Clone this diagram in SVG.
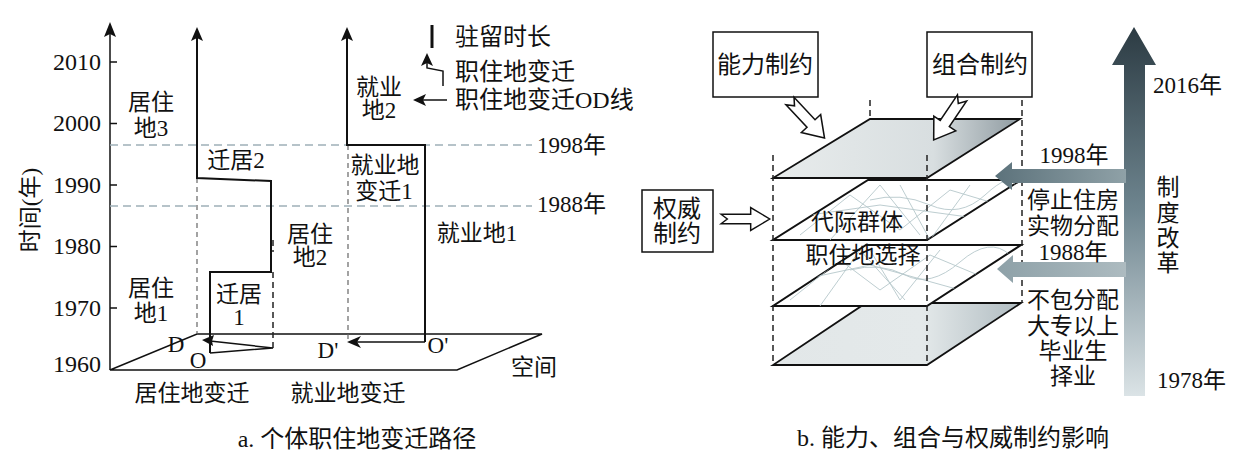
<svg xmlns="http://www.w3.org/2000/svg" width="1237" height="462" viewBox="0 0 1237 462">
<style>
text{font-family:"Liberation Serif","Noto Sans CJK SC",serif;font-size:23px;fill:#111}
.m{text-anchor:middle}
.e{text-anchor:end}
.ln{fill:none;stroke:#111;stroke-width:2}
.thin{fill:none;stroke:#111;stroke-width:1.5}
.gd{fill:none;stroke:#9fb0b8;stroke-width:1.5;stroke-dasharray:8 5}
.bd{fill:none;stroke:#222;stroke-width:1.5;stroke-dasharray:6 4}
.ld{fill:none;stroke:#666;stroke-width:1.2;stroke-dasharray:5 4}
.box{fill:#fff;stroke:#111;stroke-width:1.5}
.ha{fill:#fff;stroke:#111;stroke-width:1.4;stroke-linejoin:miter}
.tex{fill:none;stroke:#b5c7cb;stroke-width:0.9}
</style>
<defs>
<path id="harrow" d="M0,-5 L28,-5 L28,-12 L46,0 L28,12 L28,5 L0,5 L6,0 Z"/>
<linearGradient id="gTop" x1="0" y1="0" x2="1" y2="0">
<stop offset="0" stop-color="#e8ecec"/><stop offset="0.65" stop-color="#d8dee0"/><stop offset="1" stop-color="#8f9ba1"/>
</linearGradient>
<linearGradient id="gBot" x1="0" y1="0" x2="1" y2="0">
<stop offset="0" stop-color="#e2e7e8"/><stop offset="0.6" stop-color="#e4e9ea"/><stop offset="1" stop-color="#b0bcc1"/>
</linearGradient>
<linearGradient id="gV" x1="0" y1="0" x2="0" y2="1">
<stop offset="0" stop-color="#2c3b43"/><stop offset="0.5" stop-color="#6f8690"/><stop offset="1" stop-color="#dbe3e6"/>
</linearGradient>
<linearGradient id="gH1" x1="0" y1="0" x2="1" y2="0">
<stop offset="0" stop-color="#5c727b"/><stop offset="1" stop-color="#8fa1a7"/>
</linearGradient>
<linearGradient id="gH2" x1="0" y1="0" x2="1" y2="0">
<stop offset="0" stop-color="#8ea1a8"/><stop offset="1" stop-color="#adbbc0"/>
</linearGradient>
<clipPath id="c2"><polygon points="773,240 927,240 1021,180 868,180"/></clipPath>
<clipPath id="c3"><polygon points="773,306 927,306 1021,245 866,245"/></clipPath>
</defs>

<!-- ===== Panel a ===== -->
<g id="axes">
<line class="thin" x1="110" y1="370" x2="110" y2="34"/>
<polygon points="110,22 104,37 110,34 116,37" fill="#111"/>
<path class="thin" d="M110,62 H117 M110,123.5 H117 M110,185 H117 M110,246.5 H117 M110,308 H117"/>
<text class="e" x="101" y="70" style="font-size:24px">2010</text>
<text class="e" x="101" y="131" style="font-size:24px">2000</text>
<text class="e" x="101" y="193" style="font-size:24px">1990</text>
<text class="e" x="101" y="254" style="font-size:24px">1980</text>
<text class="e" x="101" y="316" style="font-size:24px">1970</text>
<text class="e" x="101" y="372" style="font-size:24px">1960</text>
<text class="m" transform="translate(38,210) rotate(-90)">时间(年)</text>
<polygon class="thin" points="110,370 457,370 542,334 197,334"/>
<text class="m" x="534" y="375">空间</text>
<text class="m" x="192" y="401">居住地变迁</text>
<text class="m" x="348" y="401">就业地变迁</text>
</g>

<g id="year-lines">
<line class="gd" x1="110" y1="145" x2="532" y2="145"/>
<line class="gd" x1="110" y1="206" x2="532" y2="206"/>
<text x="537" y="153">1998年</text>
<text x="537" y="212">1988年</text>
</g>

<g id="residence-path">
<line class="ld" x1="197" y1="178" x2="197" y2="334"/>
<path class="bd" d="M273,272 V348 M273,240 V252"/>
<path class="ln" d="M210,353 V272 H271 V181 L197,178 V38"/>
<polygon points="197,27 191,41 197,38 203,41" fill="#111"/>
<path class="thin" d="M210,353 L273,348 L210,341"/>
<polygon points="202,340 214,335 212,341 213,346" fill="#111"/>
<text class="m" x="151" y="110">居住</text>
<text class="m" x="151" y="136">地3</text>
<text class="m" x="236" y="168">迁居2</text>
<text class="m" x="310" y="242">居住</text>
<text class="m" x="310" y="265">地2</text>
<text class="m" x="239" y="302">迁居</text>
<text class="m" x="239" y="325">1</text>
<text class="m" x="151" y="296">居住</text>
<text class="m" x="151" y="321">地1</text>
<text class="m" x="176" y="352">D</text>
<text class="m" x="198" y="368">O</text>
</g>

<g id="employment-path">
<line class="ld" x1="348" y1="145" x2="348" y2="340"/>
<path class="ln" d="M425,342 V145 H347 V38"/>
<polygon points="347,27 341,41 347,38 353,41" fill="#111"/>
<line class="thin" x1="425" y1="342" x2="356" y2="342"/>
<polygon points="347,342 361,336 357,342 361,348" fill="#111"/>
<text class="m" x="379" y="95">就业</text>
<text class="m" x="379" y="118">地2</text>
<text class="m" x="385" y="173">就业地</text>
<text class="m" x="384" y="199">变迁1</text>
<text class="m" x="477" y="241">就业地1</text>
<text class="m" x="328" y="358">D'</text>
<text class="m" x="438" y="353">O'</text>
</g>

<g id="legend">
<line x1="432" y1="25" x2="432" y2="48" stroke="#111" stroke-width="3"/>
<path class="thin" d="M443,86 V71 L427,68 V62"/>
<polygon points="427,53 421,66 427,63 433,66" fill="#111"/>
<line class="thin" x1="447" y1="100" x2="422" y2="100"/>
<polygon points="413,100 426,94 423,100 426,106" fill="#111"/>
<text x="455" y="45" style="font-size:24px">驻留时长</text>
<text x="455" y="80" style="font-size:24px">职住地变迁</text>
<text x="455" y="108" style="font-size:24px">职住地变迁OD线</text>
</g>

<text class="m" x="357" y="447" style="font-size:24px">a. 个体职住地变迁路径</text>

<!-- ===== Panel b ===== -->
<g id="planes">
<polygon points="773,365 927,365 1021,303 866,303" fill="url(#gBot)" stroke="#111" stroke-width="1.8"/>
<polygon points="773,306 927,306 1021,245 866,245" fill="#fff" stroke="#111" stroke-width="2"/>
<g clip-path="url(#c3)">
<path class="tex" d="M790,300 L840,260 L880,290 L930,255 L990,280 M820,306 L860,250 L905,300 M850,270 Q880,262 905,275 T960,262 T1010,255 M870,250 L900,300 L940,250 M800,280 L870,265 L960,290"/>
</g>
<polygon points="773,240 927,240 1021,180 868,180" fill="#fff" stroke="#111" stroke-width="2"/>
<g clip-path="url(#c2)">
<path class="tex" d="M800,235 L850,195 L900,230 L950,190 L1000,205 M830,240 L880,185 L920,235 M870,200 Q900,192 930,205 T985,195 T1015,185 M900,185 L930,240 L970,185 M810,215 L880,205 L990,220"/>
</g>
<polygon points="773,178 927,178 1020,119 870,119" fill="url(#gTop)" stroke="#111" stroke-width="1.8"/>
<path class="bd" d="M773,155 V365 M927,155 V365 M1022,100 V303 M870,100 V119"/>
<text class="m" x="857" y="230">代际群体</text>
<text class="m" x="863" y="263">职住地选择</text>
</g>

<g id="box-ability">
<rect class="box" x="713" y="32" width="105" height="65"/>
<text class="m" x="765" y="73" style="font-size:24px">能力制约</text>
</g>
<g id="box-coupling">
<rect class="box" x="927" y="32" width="105" height="65"/>
<text class="m" x="980" y="73" style="font-size:24px">组合制约</text>
</g>
<g id="box-authority">
<rect class="box" x="642" y="190" width="71" height="62"/>
<text class="m" x="677" y="217" style="font-size:24px">权威</text>
<text class="m" x="677" y="242" style="font-size:24px">制约</text>
</g>

<g id="connectors">
<use href="#harrow" class="ha" transform="translate(790,101) rotate(47) scale(1.1)"/>
<use href="#harrow" class="ha" transform="translate(962,98) rotate(124) scale(1.1)"/>
<use href="#harrow" class="ha" transform="translate(721,219) scale(1.06,0.95)"/>
</g>

<g id="reform-arrow">
<polygon points="1124,396 1124,65 1112,65 1134,27 1156,65 1145,65 1145,396" fill="url(#gV)"/>
<polygon points="1126,169 1012,169 1012,162 995,176 1012,190 1012,183 1126,183" fill="url(#gH1)"/>
<polygon points="1126,262 1013,262 1013,255 997,269 1013,283 1013,277 1126,277" fill="url(#gH2)"/>
<text x="1153" y="93">2016年</text>
<text x="1157" y="388">1978年</text>
<text class="m" x="1168" y="195">制</text>
<text class="m" x="1168" y="221">度</text>
<text class="m" x="1168" y="246">改</text>
<text class="m" x="1168" y="271">革</text>
<text class="m" x="1074" y="163">1998年</text>
<text class="m" x="1073" y="208">停止住房</text>
<text class="m" x="1073" y="234">实物分配</text>
<text class="m" x="1073" y="260">1988年</text>
<text class="m" x="1073" y="308">不包分配</text>
<text class="m" x="1073" y="334">大专以上</text>
<text class="m" x="1073" y="359">毕业生</text>
<text class="m" x="1073" y="384">择业</text>
</g>

<text class="m" x="953" y="446" style="font-size:24px">b. 能力、组合与权威制约影响</text>
</svg>
